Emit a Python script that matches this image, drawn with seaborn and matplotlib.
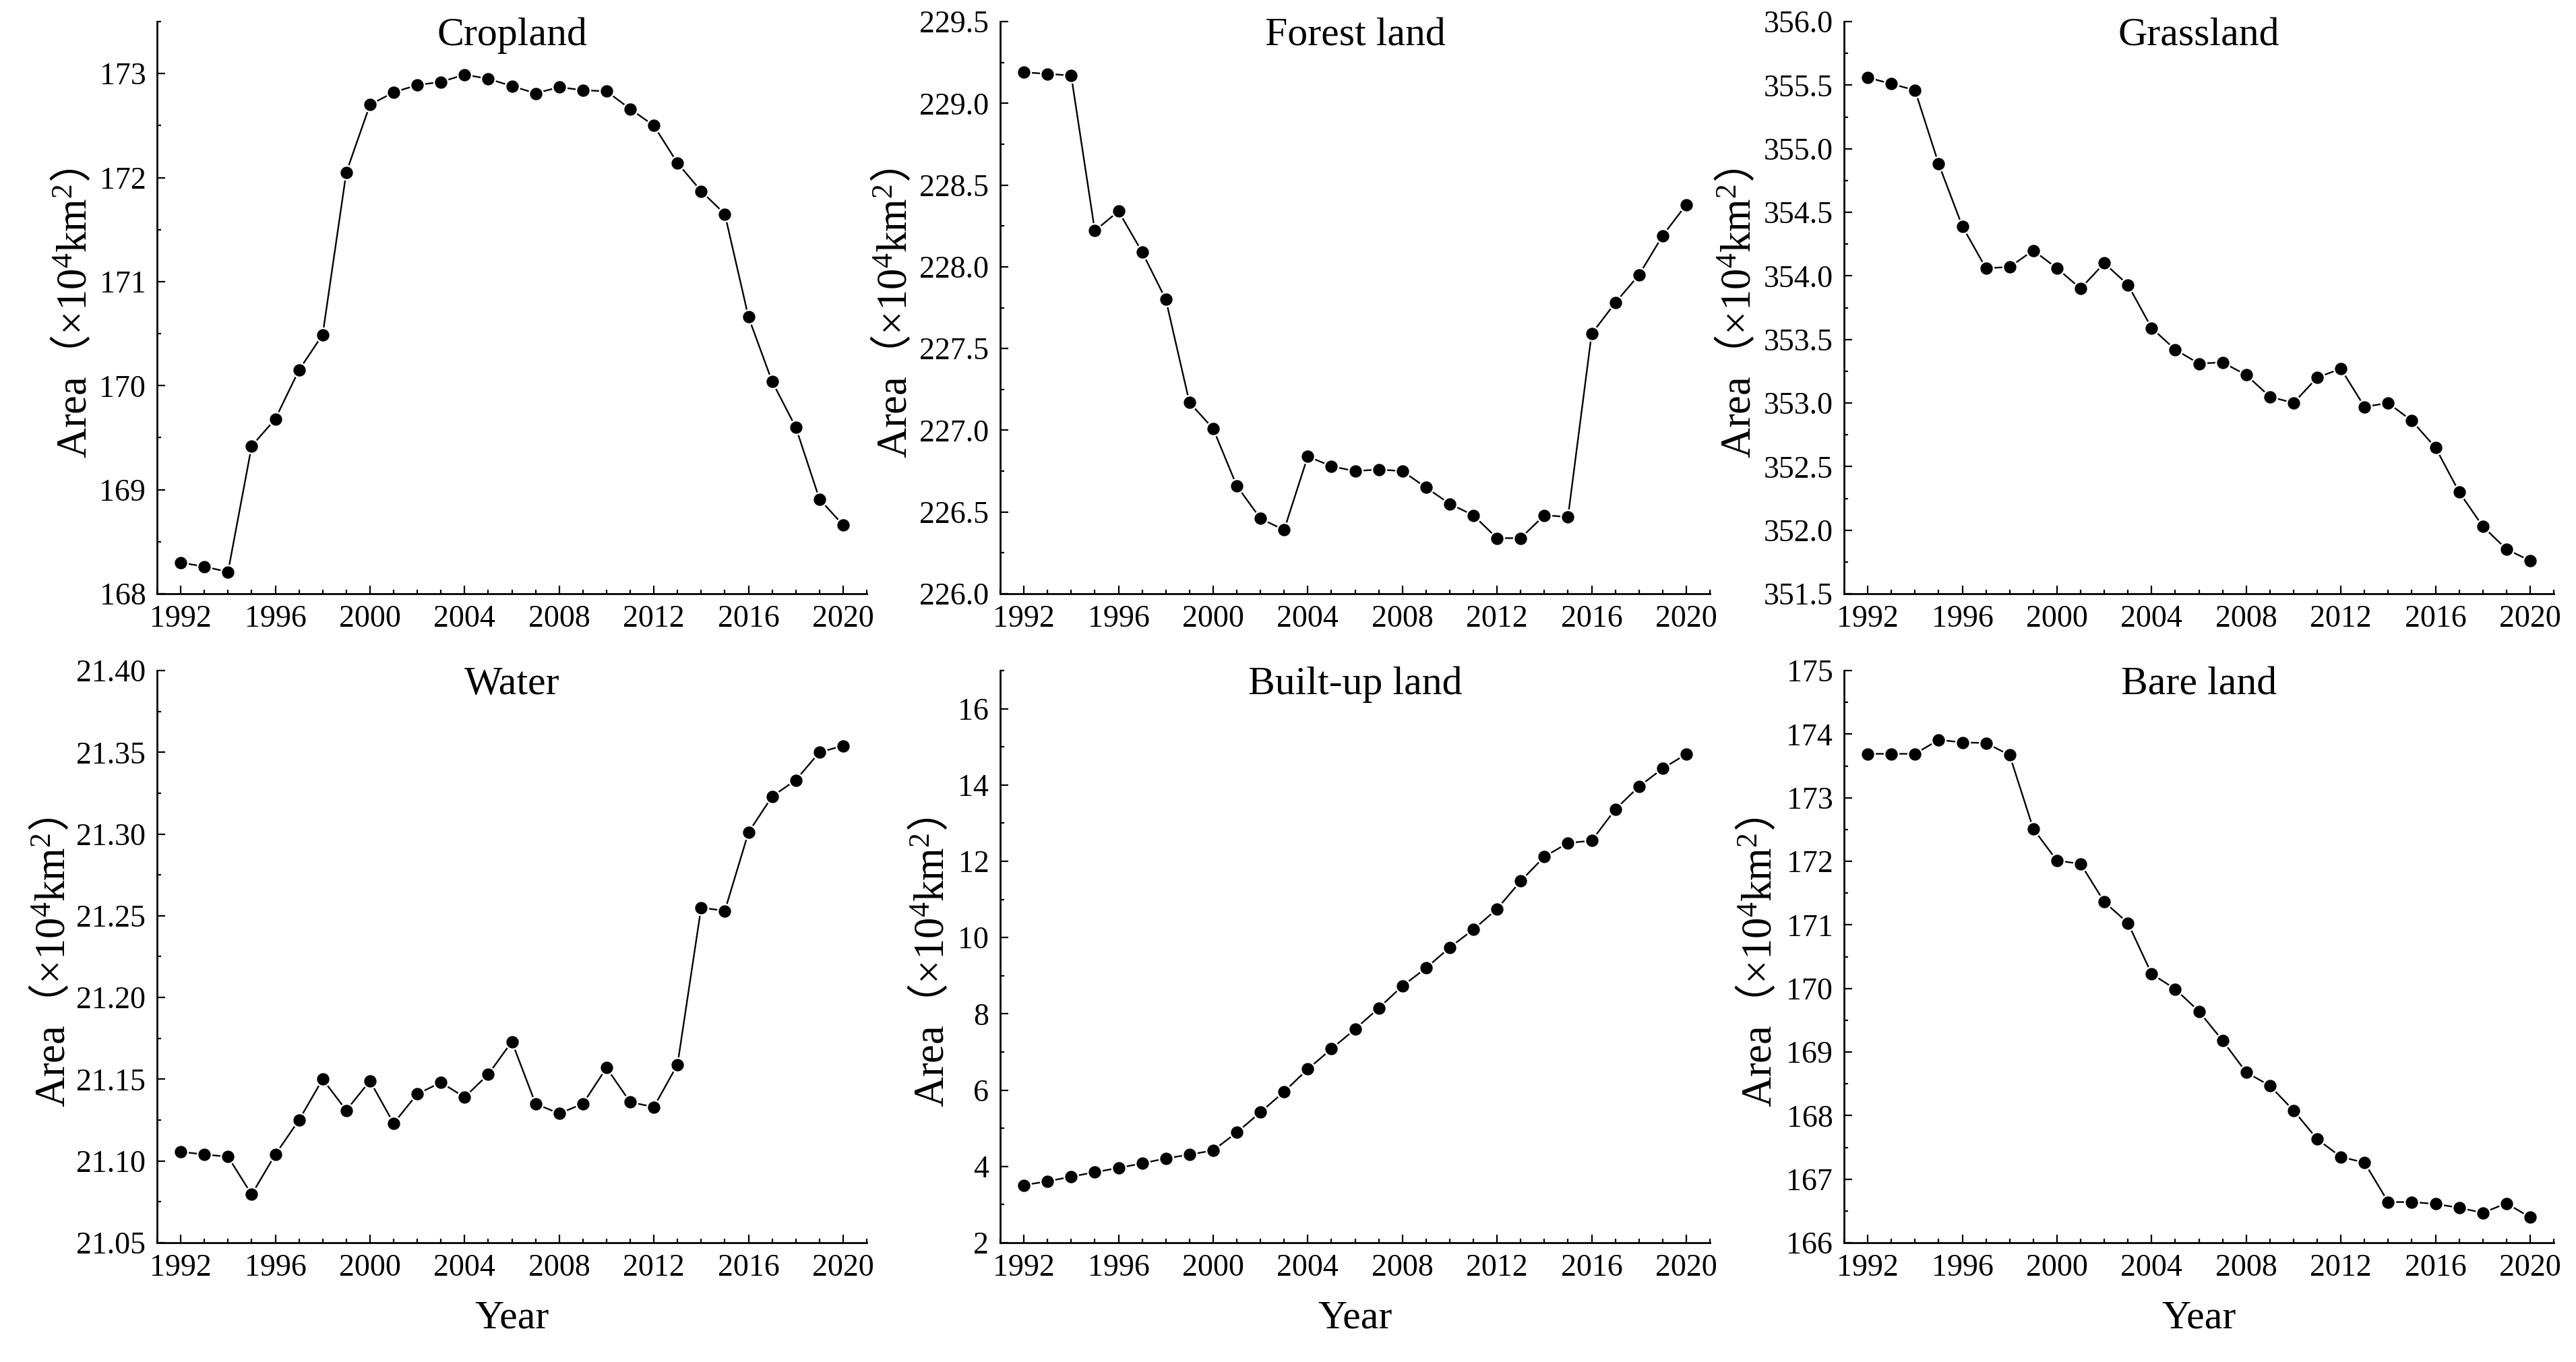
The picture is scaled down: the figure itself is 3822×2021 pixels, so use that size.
import numpy as np
import pandas as pd
import matplotlib
matplotlib.use("Agg")
import matplotlib.pyplot as plt
from matplotlib.ticker import MultipleLocator, FormatStrFormatter, FixedLocator
import seaborn as sns

years = list(range(1992, 2021))

cropland = [168.30, 168.26, 168.21, 169.42, 169.68, 170.15, 170.49, 172.05, 172.70, 172.82,
            172.89, 172.92, 172.99, 172.95, 172.88, 172.81, 172.87, 172.84, 172.83, 172.66,
            172.50, 172.14, 171.87, 171.65, 170.66, 170.04, 169.60, 168.91, 168.66]
forest = [229.19, 229.18, 229.17, 228.22, 228.34, 228.09, 227.80, 227.17, 227.01, 226.66,
          226.46, 226.39, 226.84, 226.78, 226.75, 226.76, 226.75, 226.65, 226.55, 226.48,
          226.34, 226.34, 226.48, 226.47, 227.59, 227.78, 227.95, 228.19, 228.38]
grassland = [355.56, 355.51, 355.46, 354.88, 354.39, 354.06, 354.07, 354.20, 354.06, 353.90,
             354.10, 353.93, 353.59, 353.42, 353.31, 353.32, 353.22, 353.05, 353.00, 353.20,
             353.27, 352.97, 353.00, 352.86, 352.65, 352.30, 352.03, 351.85, 351.76]
water = [21.1056, 21.104, 21.1026, 21.0795, 21.104, 21.125, 21.150, 21.131, 21.149, 21.123,
         21.141, 21.148, 21.139, 21.153, 21.173, 21.135, 21.129, 21.135, 21.157, 21.136,
         21.133, 21.159, 21.255, 21.253, 21.301, 21.323, 21.333, 21.350, 21.354]
builtup = [3.51, 3.61, 3.73, 3.85, 3.96, 4.08, 4.21, 4.31, 4.42, 4.89,
           5.42, 5.96, 6.55, 7.08, 7.60, 8.15, 8.73, 9.20, 9.74, 10.21,
           10.75, 11.48, 12.12, 12.48, 12.54, 13.36, 13.96, 14.43, 14.81]
bareland = [173.69, 173.69, 173.69, 173.91, 173.87, 173.86, 173.67, 172.51, 172.01, 171.96,
            171.36, 171.03, 170.23, 169.99, 169.64, 169.18, 168.68, 168.47, 168.08, 167.63,
            167.35, 167.26, 166.64, 166.64, 166.61, 166.55, 166.47, 166.62, 166.40]

titles = ["Cropland", "Forest land", "Grassland", "Water", "Built-up land", "Bare land"]
series = [cropland, forest, grassland, water, builtup, bareland]

yticks = [
    [168, 169, 170, 171, 172, 173],
    [226.0, 226.5, 227.0, 227.5, 228.0, 228.5, 229.0, 229.5],
    [351.5, 352.0, 352.5, 353.0, 353.5, 354.0, 354.5, 355.0, 355.5, 356.0],
    [21.05, 21.10, 21.15, 21.20, 21.25, 21.30, 21.35, 21.40],
    [2, 4, 6, 8, 10, 12, 14, 16],
    [166, 167, 168, 169, 170, 171, 172, 173, 174, 175],
]
ylims = [(168, 173.5), (226.0, 229.5), (351.5, 356.0), (21.05, 21.40), (2, 17), (166, 175)]
yminor = [0.5, 0.25, 0.25, 0.025, 1, 0.5]
yfmt = ["%d", "%.1f", "%.1f", "%.2f", "%d", "%d"]
ylabel_x = [-0.117, -0.149, -0.149, -0.147, -0.097, -0.12]
xticks = [1992, 1996, 2000, 2004, 2008, 2012, 2016, 2020]

sns.set_theme(style="ticks")
plt.rcParams["font.family"] = ["Liberation Serif", "Noto Sans CJK SC", "DejaVu Serif"]
plt.rcParams["mathtext.fontset"] = "custom"
plt.rcParams["mathtext.rm"] = "Liberation Serif"
plt.rcParams["mathtext.it"] = "Liberation Serif:italic"
plt.rcParams["mathtext.bf"] = "Liberation Serif:bold"
plt.rcParams["mathtext.sf"] = "Noto Sans CJK SC"

W, H = 3823, 2021
fig = plt.figure(figsize=(W / 100, H / 100), dpi=100)

lefts = [233, 1484, 2736]
tops = [32, 995]
aw, ah = 1053, 849

ylabel_text = r"Area$\mathsf{（}$×10$\mathrm{^4}$km$\mathrm{^2}$$\mathsf{）}$"

for i in range(6):
    r, c = divmod(i, 3)
    ax = fig.add_axes([lefts[c] / W, 1 - (tops[r] + ah) / H, aw / W, ah / H])
    df = pd.DataFrame({"Year": years, "Area": series[i]})
    sns.lineplot(data=df, x="Year", y="Area", ax=ax, color="black", linewidth=1.7,
                 marker="o", markersize=15, markerfacecolor="black",
                 markeredgecolor="white", markeredgewidth=1.8)
    ax.set_xlim(1991, 2021)
    ax.set_ylim(*ylims[i])
    ax.xaxis.set_major_locator(FixedLocator(xticks))
    ax.xaxis.set_minor_locator(MultipleLocator(1))
    ax.yaxis.set_major_locator(FixedLocator(yticks[i]))
    ax.yaxis.set_minor_locator(MultipleLocator(yminor[i]))
    ax.yaxis.set_major_formatter(FormatStrFormatter(yfmt[i]))
    ax.tick_params(which="major", direction="in", length=8.5, width=1.6,
                   labelsize=33, pad=12, colors="black")
    ax.tick_params(which="minor", direction="in", length=4.5, width=1.6, colors="black")
    for s in ["top", "right"]:
        ax.spines[s].set_visible(False)
    for s in ["left", "bottom"]:
        ax.spines[s].set_linewidth(2.0)
        ax.spines[s].set_color("black")
    ax.text(0.5, 0.975, titles[i], transform=ax.transAxes, ha="center", va="center",
            fontsize=43, color="black")
    ax.set_ylabel(ylabel_text, fontsize=45, color="black", va="center")
    ax.yaxis.set_label_coords(ylabel_x[i], 0.49)
    if r == 1:
        ax.set_xlabel("Year", fontsize=43, color="black", va="center")
        ax.xaxis.set_label_coords(0.5, -0.133)
    else:
        ax.set_xlabel("")
    ax.set_facecolor("white")

fig.savefig("out.png", dpi=100, facecolor="white")
